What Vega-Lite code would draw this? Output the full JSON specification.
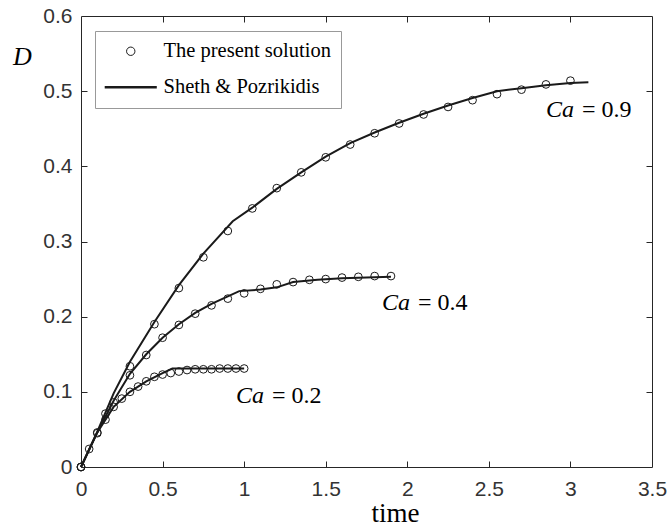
{
  "$schema": "https://vega.github.io/schema/vega-lite/v6.json",
  "width": 571,
  "height": 451,
  "autosize": {"type": "none"},
  "padding": {"left": 81, "top": 16, "right": 15, "bottom": 59},
  "background": "white",
  "config": {
    "view": {"stroke": null},
    "axis": {
      "grid": false,
      "domainColor": "#262626",
      "domainWidth": 1,
      "labelColor": "#333333",
      "labelFont": "Liberation Sans",
      "labelFontSize": 21,
      "titleFont": "Liberation Serif",
      "titleFontWeight": "normal",
      "titleColor": "#000000"
    }
  },
  "datasets": {
    "lines": [
      {"ca": "0.9", "t": 0, "d": 0}, {"ca": "0.9", "t": 0.1, "d": 0.047}, {"ca": "0.9", "t": 0.2, "d": 0.098}, {"ca": "0.9", "t": 0.3, "d": 0.14},
      {"ca": "0.9", "t": 0.45, "d": 0.193}, {"ca": "0.9", "t": 0.6, "d": 0.242}, {"ca": "0.9", "t": 0.75, "d": 0.284}, {"ca": "0.9", "t": 0.93, "d": 0.327},
      {"ca": "0.9", "t": 1.05, "d": 0.345}, {"ca": "0.9", "t": 1.2, "d": 0.37}, {"ca": "0.9", "t": 1.35, "d": 0.392}, {"ca": "0.9", "t": 1.5, "d": 0.413},
      {"ca": "0.9", "t": 1.65, "d": 0.431}, {"ca": "0.9", "t": 1.8, "d": 0.445}, {"ca": "0.9", "t": 1.95, "d": 0.458}, {"ca": "0.9", "t": 2.1, "d": 0.47},
      {"ca": "0.9", "t": 2.25, "d": 0.481}, {"ca": "0.9", "t": 2.4, "d": 0.491}, {"ca": "0.9", "t": 2.55, "d": 0.5}, {"ca": "0.9", "t": 2.7, "d": 0.504},
      {"ca": "0.9", "t": 2.85, "d": 0.508}, {"ca": "0.9", "t": 3.0, "d": 0.511}, {"ca": "0.9", "t": 3.11, "d": 0.512},
      {"ca": "0.4", "t": 0, "d": 0}, {"ca": "0.4", "t": 0.1, "d": 0.046}, {"ca": "0.4", "t": 0.2, "d": 0.088}, {"ca": "0.4", "t": 0.3, "d": 0.124},
      {"ca": "0.4", "t": 0.4, "d": 0.15}, {"ca": "0.4", "t": 0.5, "d": 0.172}, {"ca": "0.4", "t": 0.6, "d": 0.19}, {"ca": "0.4", "t": 0.7, "d": 0.205},
      {"ca": "0.4", "t": 0.8, "d": 0.217}, {"ca": "0.4", "t": 0.9, "d": 0.227}, {"ca": "0.4", "t": 0.97, "d": 0.234}, {"ca": "0.4", "t": 1.1, "d": 0.236},
      {"ca": "0.4", "t": 1.2, "d": 0.239}, {"ca": "0.4", "t": 1.3, "d": 0.246}, {"ca": "0.4", "t": 1.45, "d": 0.249}, {"ca": "0.4", "t": 1.6, "d": 0.251},
      {"ca": "0.4", "t": 1.9, "d": 0.253},
      {"ca": "0.2", "t": 0, "d": 0}, {"ca": "0.2", "t": 0.1, "d": 0.046}, {"ca": "0.2", "t": 0.2, "d": 0.08}, {"ca": "0.2", "t": 0.3, "d": 0.1},
      {"ca": "0.2", "t": 0.4, "d": 0.114}, {"ca": "0.2", "t": 0.5, "d": 0.125}, {"ca": "0.2", "t": 0.56, "d": 0.131}, {"ca": "0.2", "t": 0.8, "d": 0.131},
      {"ca": "0.2", "t": 1.0, "d": 0.131}
    ],
    "points": [
      {"ca": "0.9", "t": 0, "d": 0}, {"ca": "0.9", "t": 0.15, "d": 0.071}, {"ca": "0.9", "t": 0.3, "d": 0.134}, {"ca": "0.9", "t": 0.45, "d": 0.19},
      {"ca": "0.9", "t": 0.6, "d": 0.238}, {"ca": "0.9", "t": 0.75, "d": 0.279}, {"ca": "0.9", "t": 0.9, "d": 0.314}, {"ca": "0.9", "t": 1.05, "d": 0.344},
      {"ca": "0.9", "t": 1.2, "d": 0.371}, {"ca": "0.9", "t": 1.35, "d": 0.392}, {"ca": "0.9", "t": 1.5, "d": 0.412}, {"ca": "0.9", "t": 1.65, "d": 0.429},
      {"ca": "0.9", "t": 1.8, "d": 0.444}, {"ca": "0.9", "t": 1.95, "d": 0.457}, {"ca": "0.9", "t": 2.1, "d": 0.469}, {"ca": "0.9", "t": 2.25, "d": 0.479},
      {"ca": "0.9", "t": 2.4, "d": 0.488}, {"ca": "0.9", "t": 2.55, "d": 0.496}, {"ca": "0.9", "t": 2.7, "d": 0.502}, {"ca": "0.9", "t": 2.85, "d": 0.509},
      {"ca": "0.9", "t": 3.0, "d": 0.514},
      {"ca": "0.4", "t": 0, "d": 0}, {"ca": "0.4", "t": 0.1, "d": 0.046}, {"ca": "0.4", "t": 0.2, "d": 0.086}, {"ca": "0.4", "t": 0.3, "d": 0.122},
      {"ca": "0.4", "t": 0.4, "d": 0.149}, {"ca": "0.4", "t": 0.5, "d": 0.172}, {"ca": "0.4", "t": 0.6, "d": 0.189}, {"ca": "0.4", "t": 0.7, "d": 0.204},
      {"ca": "0.4", "t": 0.8, "d": 0.215}, {"ca": "0.4", "t": 0.9, "d": 0.224}, {"ca": "0.4", "t": 1.0, "d": 0.231}, {"ca": "0.4", "t": 1.1, "d": 0.237},
      {"ca": "0.4", "t": 1.2, "d": 0.243}, {"ca": "0.4", "t": 1.3, "d": 0.246}, {"ca": "0.4", "t": 1.4, "d": 0.249}, {"ca": "0.4", "t": 1.5, "d": 0.25},
      {"ca": "0.4", "t": 1.6, "d": 0.252}, {"ca": "0.4", "t": 1.7, "d": 0.253}, {"ca": "0.4", "t": 1.8, "d": 0.254}, {"ca": "0.4", "t": 1.9, "d": 0.254},
      {"ca": "0.2", "t": 0, "d": 0}, {"ca": "0.2", "t": 0.05, "d": 0.024}, {"ca": "0.2", "t": 0.1, "d": 0.045}, {"ca": "0.2", "t": 0.15, "d": 0.063},
      {"ca": "0.2", "t": 0.2, "d": 0.08}, {"ca": "0.2", "t": 0.25, "d": 0.091}, {"ca": "0.2", "t": 0.3, "d": 0.1}, {"ca": "0.2", "t": 0.35, "d": 0.107},
      {"ca": "0.2", "t": 0.4, "d": 0.114}, {"ca": "0.2", "t": 0.45, "d": 0.12}, {"ca": "0.2", "t": 0.5, "d": 0.123}, {"ca": "0.2", "t": 0.55, "d": 0.125},
      {"ca": "0.2", "t": 0.6, "d": 0.127}, {"ca": "0.2", "t": 0.65, "d": 0.129}, {"ca": "0.2", "t": 0.7, "d": 0.13}, {"ca": "0.2", "t": 0.75, "d": 0.13},
      {"ca": "0.2", "t": 0.8, "d": 0.13}, {"ca": "0.2", "t": 0.85, "d": 0.131}, {"ca": "0.2", "t": 0.9, "d": 0.131}, {"ca": "0.2", "t": 0.95, "d": 0.131},
      {"ca": "0.2", "t": 1.0, "d": 0.131}
    ],
    "labels": [
      {"t": 3.04, "d": 0.465, "name": "Ca", "val": "= 0.9"},
      {"t": 2.035, "d": 0.209, "name": "Ca", "val": "= 0.4"},
      {"t": 1.14, "d": 0.085, "name": "Ca", "val": "= 0.2"}
    ]
  },
  "resolve": {"axis": {"x": "independent", "y": "independent"}},
  "layer": [
    {
      "data": {"name": "lines"},
      "transform": [{"calculate": "'Sheth & Pozrikidis'", "as": "src"}],
      "mark": {"type": "line", "strokeWidth": 2, "interpolate": "linear"},
      "encoding": {
        "x": {"field": "t", "type": "quantitative", "scale": {"domain": [0, 3.5], "nice": false, "zero": false},
              "axis": {"orient": "bottom", "values": [0, 0.5, 1, 1.5, 2, 2.5, 3, 3.5], "format": "~g", "title": "time",
                       "ticks": false, "domain": true,
                       "titleFontSize": 27, "titleX": 314, "titleY": 54, "titleBaseline": "alphabetic", "titleAnchor": "start", "titleAlign": "center",
                       "labelPadding": 11, "labelFlush": false}},
        "y": {"field": "d", "type": "quantitative", "scale": {"domain": [0, 0.6], "nice": false, "zero": false},
              "axis": {"orient": "left", "values": [0, 0.1, 0.2, 0.3, 0.4, 0.5, 0.6], "format": "~g", "title": "D",
                       "ticks": false, "domain": true,
                       "titleAngle": 0, "titleFontSize": 26, "titleFontStyle": "italic", "titleX": -59, "titleY": 48,
                       "titleBaseline": "alphabetic", "titleAlign": "center", "titleAnchor": "start", "labelPadding": 9, "labelFlush": false}},
        "detail": {"field": "ca"},
        "color": {"field": "src", "type": "nominal",
                  "scale": {"domain": ["The present solution", "Sheth & Pozrikidis"], "range": ["#1a1a1a", "#1a1a1a"]},
                  "legend": {
                    "title": null, "orient": "none", "legendX": 14, "legendY": 15, "padding": 10,
                    "strokeColor": "#999999", "fillColor": "#ffffff",
                    "labelFont": "Liberation Serif", "labelFontSize": 20.5, "labelColor": "#000000", "labelLimit": 400,
                    "symbolSize": 784, "symbolStrokeWidth": 2, "symbolOffset": 15.5, "labelOffset": 22.5, "rowPadding": 15,
                    "encode": {"symbols": {"update": {
                      "shape": {"signal": "datum.value === 'Sheth & Pozrikidis' ? 'M-1.86,0H1.86' : 'M-0.3,0A0.3,0.3 0 1,1 0.3,0A0.3,0.3 0 1,1 -0.3,0Z'"},
                      "fill": {"value": "transparent"},
                      "stroke": {"value": "#1a1a1a"},
                      "strokeWidth": {"signal": "datum.value === 'Sheth & Pozrikidis' ? 2.5 : 1"}
                    }}}
                  }}
      }
    },
    {
      "data": {"name": "points"},
      "transform": [{"calculate": "'The present solution'", "as": "src"}],
      "mark": {"type": "point", "shape": "circle", "filled": false, "size": 60, "strokeWidth": 1, "opacity": 1},
      "encoding": {
        "x": {"field": "t", "type": "quantitative",
              "axis": {"orient": "top", "offset": -451, "values": [0.5, 1, 1.5, 2, 2.5, 3], "labels": false, "domain": false, "title": null,
                       "ticks": true, "tickSize": 6, "tickWidth": 1, "tickColor": "#262626"}},
        "y": {"field": "d", "type": "quantitative",
              "axis": {"orient": "right", "offset": -571, "values": [0.1, 0.2, 0.3, 0.4, 0.5], "labels": false, "domain": false, "title": null,
                       "ticks": true, "tickSize": 6, "tickWidth": 1, "tickColor": "#262626"}},
        "color": {"field": "src", "type": "nominal"}
      }
    },
    {
      "data": {"name": "labels"},
      "mark": {"type": "text", "align": "right", "baseline": "alphabetic", "dx": -3, "font": "Liberation Serif", "fontStyle": "italic", "fontSize": 24, "color": "#000000"},
      "encoding": {
        "x": {"field": "t", "type": "quantitative",
              "axis": {"orient": "bottom", "offset": -451, "values": [0.5, 1, 1.5, 2, 2.5, 3], "labels": false, "domain": false, "title": null,
                       "ticks": true, "tickSize": 6, "tickWidth": 1, "tickColor": "#262626"}},
        "y": {"field": "d", "type": "quantitative",
              "axis": {"orient": "left", "offset": -571, "values": [0.1, 0.2, 0.3, 0.4, 0.5], "labels": false, "domain": false, "title": null,
                       "ticks": true, "tickSize": 6, "tickWidth": 1, "tickColor": "#262626"}},
        "text": {"field": "name"}
      }
    },
    {
      "data": {"name": "labels"},
      "mark": {"type": "text", "align": "left", "baseline": "alphabetic", "dx": 5, "font": "Liberation Serif", "fontSize": 24, "color": "#000000"},
      "encoding": {
        "x": {"field": "t", "type": "quantitative",
              "axis": {"orient": "top", "values": [0, 3.5], "labels": false, "ticks": false, "domain": true, "title": null}},
        "y": {"field": "d", "type": "quantitative",
              "axis": {"orient": "right", "values": [0, 0.6], "labels": false, "ticks": false, "domain": true, "title": null}},
        "text": {"field": "val"}
      }
    }
  ]
}
